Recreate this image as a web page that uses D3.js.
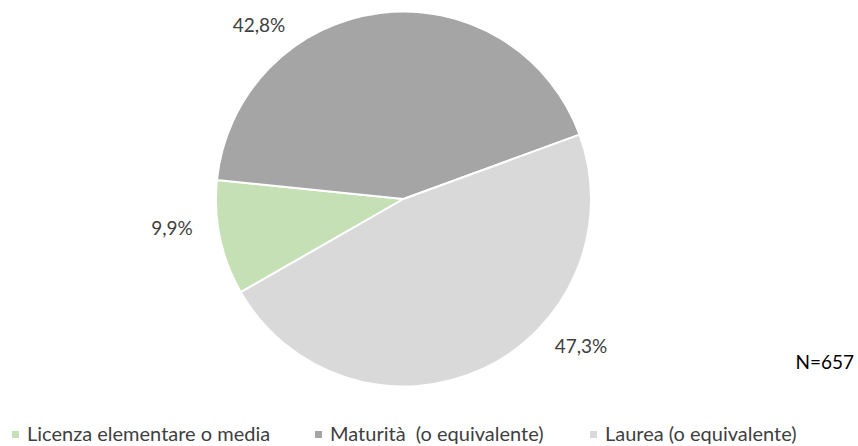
<!DOCTYPE html>
<html>
<head>
<meta charset="utf-8">
<script src="https://cdn.jsdelivr.net/npm/d3@7"></script>
<style>
  html, body { margin: 0; padding: 0; background: #fff; }
  svg { display: block; font-family: Lato, "Open Sans", sans-serif; }
  text { white-space: pre; }
</style>
</head>
<body>
<svg id="chart" width="858" height="446"></svg>
<script>
// ---- data ----
const categories = ["Licenza elementare o media", "Maturità  (o equivalente)", "Laurea (o equivalente)"];
const values = [9.9, 42.8, 47.3];
const valueLabels = ["9,9%", "42,8%", "47,3%"];
const colors = ["#c5e0b4", "#a5a5a5", "#d9d9d9"];
const note = "N=657";

// ---- layout ----
const W = 858, H = 446;
const cx = 403.5, cy = 199, R = 187.5;
const startDeg = 240.2;
// label anchor positions (text centers / baselines), as in the reference
const labelPos = [[172, 235], [259, 32], [581, 353]];
const legendX = [12, 315, 590];
const legendY = 441;

const svg = d3.select("#chart");

const pie = d3.pie()
  .sort(null)
  .value(d => d)
  .startAngle(startDeg * Math.PI / 180)
  .endAngle(startDeg * Math.PI / 180 + 2 * Math.PI);

const arc = d3.arc().innerRadius(0).outerRadius(R);

const g = svg.append("g").attr("transform", `translate(${cx},${cy})`);
g.selectAll("path")
  .data(pie(values))
  .join("path")
  .attr("d", arc)
  .attr("fill", (d, i) => colors[i])
  .attr("stroke", "#fff")
  .attr("stroke-width", 2)
  .attr("stroke-linejoin", "round");

// value labels
svg.selectAll("text.val")
  .data(valueLabels)
  .join("text")
  .attr("class", "val")
  .attr("x", (d, i) => labelPos[i][0])
  .attr("y", (d, i) => labelPos[i][1])
  .attr("text-anchor", "middle")
  .attr("font-size", 19)
  .attr("fill", "#404040")
  .text(d => d);

// N note
svg.append("text")
  .attr("x", 854)
  .attr("y", 369)
  .attr("text-anchor", "end")
  .attr("font-size", 19)
  .attr("fill", "#000")
  .text(note);

// legend
const leg = svg.selectAll("g.leg")
  .data(categories)
  .join("g")
  .attr("class", "leg")
  .attr("transform", (d, i) => `translate(${legendX[i]},${legendY})`);
leg.append("rect")
  .attr("x", 0).attr("y", -10)
  .attr("width", 7).attr("height", 7)
  .attr("fill", (d, i) => colors[i]);
leg.append("text")
  .attr("x", 15)
  .attr("y", 0)
  .attr("font-size", 20)
  .attr("fill", "#404040")
  .text(d => d);
</script>
</body>
</html>
